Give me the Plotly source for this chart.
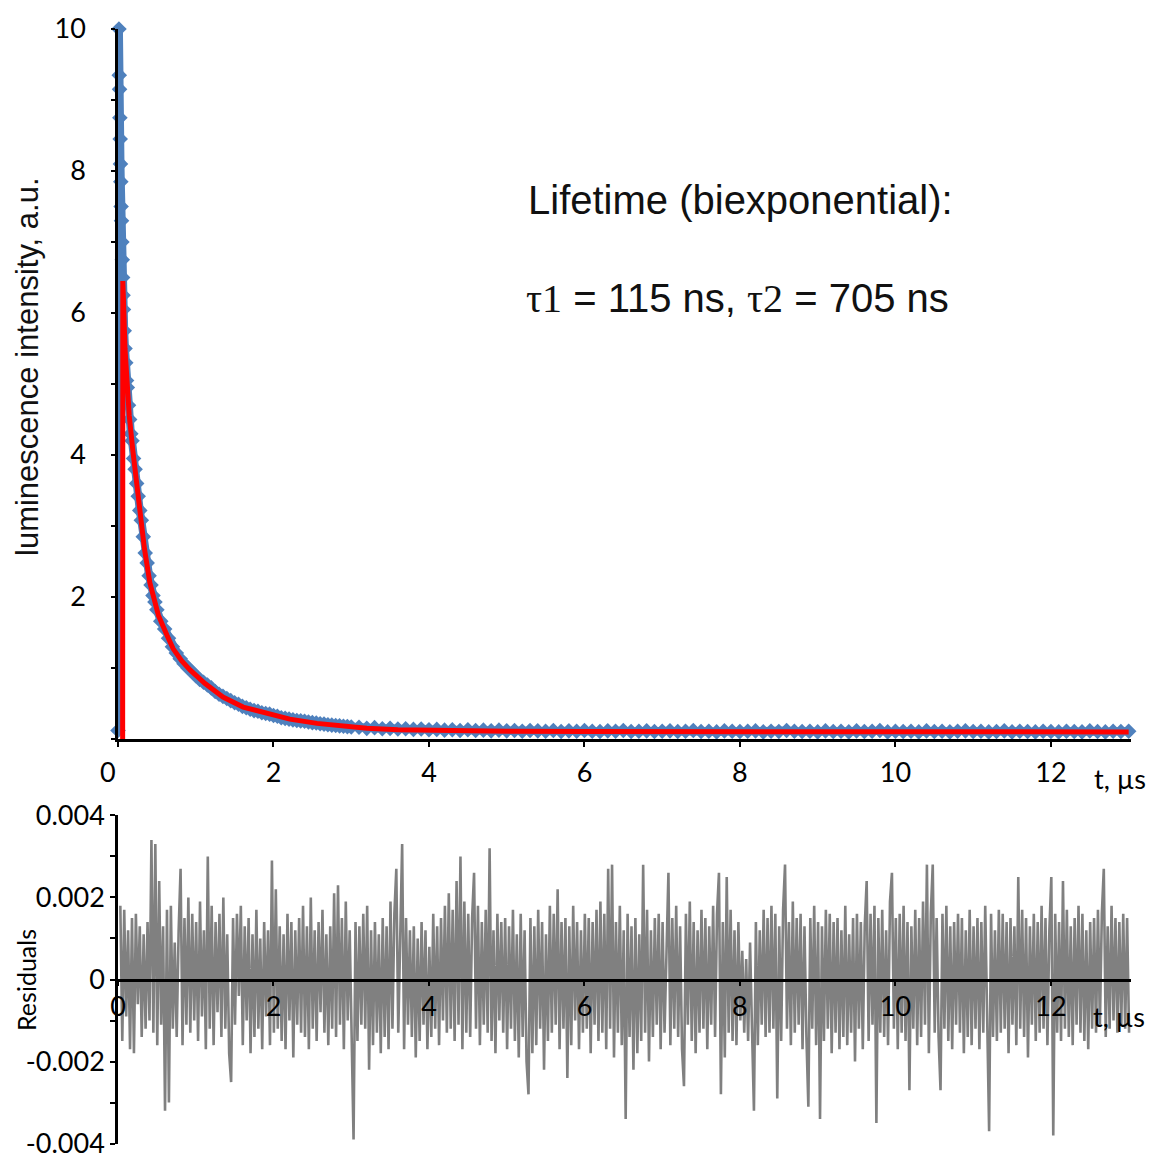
import plotly.graph_objects as go

# ---------------- data ----------------
# measured luminescence decay (blue), t in microseconds
decay_t = [0.000, 0.012, 0.016, 0.020, 0.024, 0.028, 0.032, 0.036, 0.040, 0.045,
           0.050, 0.055, 0.060, 0.065, 0.070, 0.080, 0.090, 0.100, 0.110, 0.120,
           0.135, 0.150, 0.165, 0.180, 0.200, 0.220, 0.240, 0.260, 0.280, 0.300,
           0.325, 0.350, 0.375, 0.400, 0.425, 0.450, 0.475, 0.500, 0.55, 0.60,
           0.65, 0.70, 0.75, 0.80, 0.85, 0.90, 0.95, 1.00, 1.05, 1.10,
           1.15, 1.20, 1.25, 1.30, 1.35, 1.40, 1.45, 1.50, 1.55, 1.60,
           1.65, 1.70, 1.75, 1.80, 1.85, 1.90, 1.95, 2.00, 2.05, 2.10,
           2.15, 2.20, 2.25, 2.30, 2.35, 2.40, 2.45, 2.50, 2.55, 2.60,
           2.65, 2.70, 2.75, 2.80, 2.85, 2.90, 2.95, 3.00,
           3.1, 3.2, 3.3, 3.4, 3.5, 3.6, 3.7, 3.8, 3.9, 4.0,
           4.1, 4.2, 4.3, 4.4, 4.5, 4.6, 4.7, 4.8, 4.9, 5.0,
           5.1, 5.2, 5.3, 5.4, 5.5, 5.6, 5.7, 5.8, 5.9, 6.0,
           6.1, 6.2, 6.3, 6.4, 6.5, 6.6, 6.7, 6.8, 6.9, 7.0,
           7.1, 7.2, 7.3, 7.4, 7.5, 7.6, 7.7, 7.8, 7.9, 8.0,
           8.1, 8.2, 8.3, 8.4, 8.5, 8.6, 8.7, 8.8, 8.9, 9.0,
           9.1, 9.2, 9.3, 9.4, 9.5, 9.6, 9.7, 9.8, 9.9, 10.0,
           10.1, 10.2, 10.3, 10.4, 10.5, 10.6, 10.7, 10.8, 10.9, 11.0,
           11.1, 11.2, 11.3, 11.4, 11.5, 11.6, 11.7, 11.8, 11.9, 12.0,
           12.1, 12.2, 12.3, 12.4, 12.5, 12.6, 12.7, 12.8, 12.9, 13.0]
decay_y = [0.12, 10.0, 9.35, 9.15, 8.75, 8.45, 8.10, 7.85, 7.50, 7.30,
           7.00, 6.75, 6.50, 6.25, 6.05, 5.75, 5.50, 5.30, 5.05, 4.95,
           4.70, 4.50, 4.30, 4.20, 3.95, 3.80, 3.60, 3.42, 3.22, 3.08,
           2.85, 2.62, 2.48, 2.30, 2.17, 2.02, 1.93, 1.82, 1.66, 1.55,
           1.42, 1.30, 1.21, 1.13, 1.06, 1.00, 0.95, 0.89, 0.84, 0.80,
           0.76, 0.72, 0.67, 0.63, 0.60, 0.57, 0.54, 0.51, 0.49, 0.46,
           0.44, 0.42, 0.40, 0.39, 0.37, 0.36, 0.35, 0.33, 0.32, 0.30,
           0.29, 0.28, 0.27, 0.26, 0.255, 0.25, 0.24, 0.23, 0.225, 0.215,
           0.21, 0.20, 0.195, 0.19, 0.185, 0.18, 0.175, 0.17,
           0.165, 0.150, 0.160, 0.145, 0.150, 0.140, 0.145, 0.135, 0.140, 0.130,
           0.135, 0.125, 0.130, 0.120, 0.130, 0.120, 0.125, 0.115, 0.125, 0.115,
           0.120, 0.110, 0.120, 0.115, 0.110, 0.120, 0.105, 0.115, 0.110, 0.120,
           0.110, 0.105, 0.115, 0.110, 0.120, 0.105, 0.110, 0.115, 0.105, 0.110,
           0.115, 0.105, 0.110, 0.120, 0.105, 0.110, 0.100, 0.115, 0.110, 0.105,
           0.110, 0.115, 0.100, 0.110, 0.105, 0.120, 0.110, 0.105, 0.110, 0.100,
           0.115, 0.105, 0.110, 0.100, 0.115, 0.105, 0.110, 0.120, 0.100, 0.110,
           0.105, 0.110, 0.100, 0.115, 0.105, 0.110, 0.100, 0.110, 0.115, 0.105,
           0.110, 0.100, 0.105, 0.115, 0.100, 0.110, 0.105, 0.100, 0.110, 0.105,
           0.100, 0.110, 0.105, 0.100, 0.115, 0.105, 0.100, 0.110, 0.105, 0.110]

# biexponential fit (red)
fit_t = [0.060, 0.062, 0.070, 0.090, 0.115, 0.145, 0.190, 0.240, 0.280, 0.340,
         0.410, 0.520, 0.630, 0.710, 0.820, 0.930, 1.120, 1.350, 1.610, 1.920,
         2.210, 2.560, 2.860, 3.200, 3.600, 4.000, 5.000, 6.000, 13.000]
fit_y = [0.00, 6.45, 6.20, 5.50, 5.00, 4.55, 4.07, 3.60, 3.20, 2.68,
         2.20, 1.74, 1.46, 1.27, 1.10, 0.97, 0.78, 0.59, 0.45, 0.36,
         0.28, 0.22, 0.18, 0.15, 0.13, 0.12, 0.11, 0.105, 0.100]

# fit residuals, in units of 1e-4, sampled every 0.025 us starting at 0.03 us
res_t0 = 0.03
res_dt = 0.025
residuals_e4 = [
    18, -15, 17, -9, 12, -17, 15, -18, 16, -6, 13, -14, 11, -12, 14, -10, 34, -13, 33, -16,
    24, -11, 13, -32, 17, -30, 18, -12, 9, -14, 12, 27, -16, 15, -11, 20, -13, 16, -10, 14,
    -15, 19, -9, 12, -17, 30, -12, 18, -16, 14, -8, 16, -14, 20, -12, 11, -18, -25, 15, -11,
    16, -4, 18, -16, 13, -10, 15, -18, 11, -14, 17, -12, 10, -17, 14, -9, 12, -16, 29, -13,
    22, -12, 13, -15, 11, -17, 16, -10, 14, -19, 12, -11, 15, -13, 18, -14, 13, -17, 20, -12,
    12, -15, 14, -8, 17, -13, 11, -16, 13, -12, 21, -14, 23, -11, 15, -17, 19, -10, 12, -13,
    -39, 14, -15, 13, -11, 16, -12, 18, -22, 12, -16, 14, -13, 11, -18, 15, -14, 13, -17, 19,
    -12, 16, 27, -13, 14, 33, -17, 15, -11, 12, -14, 13, -19, 10, -15, 14, -11, 12, -17, 8,
    -14, 16, -12, 13, -16, 15, -10, 18, -13, 21, -12, 17, -15, 24, -11, 30, -17, 19, -13, 16,
    -14, 15, 26, -12, 18, -16, 14, -11, 17, -13, 32, -15, 12, -18, 16, -10, 14, -13, 15, -17,
    13, -12, 17, -15, 11, -19, 16, -14, 12, -20, -28, 15, -18, 13, -16, 17, -12, 14, -22, 11,
    -15, 18, -13, 16, -11, 22, -17, 14, -12, 15, -24, 13, -16, 18, -10, 14, -17, 12, -13, 16,
    -12, 15, -18, 14, -11, 17, -15, 19, -13, 16, -17, 27, -12, 28, -19, 14, -13, 18, -16, 12,
    -34, 16, -14, 13, -22, 15, -18, 11, -15, 28, -13, 17, -20, 12, -14, 15, -11, 16, -17, 14,
    -13, 11, 26, -16, 15, -12, 18, -14, 13, -17, -26, 16, -11, 19, -15, 14, -18, 12, -13, 17,
    -12, 15, -17, 13, -11, 18, -14, 16, 26, -28, 14, -19, 25, -13, 17, -15, 12, -16, 14, -10,
    7, -13, 5, -15, 9, -12, -32, 14, -16, 12, -11, 17, -14, 15, -13, 18, -12, 16, -29, 13,
    -15, 17, 28, -12, 14, -16, 19, -13, 15, -11, 16, -17, 13, -14, -31, 15, -12, 18, -16, 14,
    -34, 13, -15, 17, -12, 16, -18, 14, -13, 15, -17, 12, -14, 18, -16, 11, -13, 15, -20, 16,
    -12, 14, -17, 13, 24, -15, 16, -11, 18, -35, 15, -13, 17, -14, 12, -16, 19, 26, -12, 15,
    -17, 16, -13, 18, -15, 14, -27, 13, -12, 17, -16, 15, -14, 19, -11, 28, -18, 16, 28, -13,
    15, -14, -27, 16, -12, 18, -15, 13, -17, 14, -11, 16, -13, 15, -18, 12, -14, 17, -16, 13,
    -12, 15, -17, 14, -13, 18, -11, -37, 16, -14, 12, -15, 17, -13, 16, -12, 14, -18, 15, -11,
    13, -16, 25, -12, 17, -14, 15, -19, 13, -11, 16, -15, 14, -13, 18, -12, 15, -16, 12, 25,
    -38, 16, -13, 14, -15, 24, -12, 17, -14, 13, -16, 15, -11, 18, -13, 16, -15, 12, -17, 14,
    -12, 15, -13, 17, -11, 16, 27, -14, 13, -12, 18, -10, 15, -13, 14, -11, 16, -12, 15, -13,
]

# axis ticks
x_ticks = [0, 2, 4, 6, 8, 10, 12]
x_top_text = ['', '2', '4', '6', '8', '10', '12']
x_bot_text = ['0', '2', '4', '6', '8', '10', '12']
top_y_ticks = [0, 1, 2, 3, 4, 5, 6, 7, 8, 9, 10]
top_y_text = ['', '', '2', '', '4', '', '6', '', '8', '', '10']
res_y_ticks = [-0.004, -0.003, -0.002, -0.001, 0, 0.001, 0.002, 0.003, 0.004]
res_y_text = ['-0.004', '', '-0.002', '', '0', '', '0.002', '', '0.004']

# ---------------- derived ----------------
res_t = [round(res_t0 + i * res_dt, 4) for i in range(len(residuals_e4))]
res_v = [v * 1e-4 for v in residuals_e4]

BLUE = '#4F81BD'
RED = '#FF0000'
GRAY = '#808080'
TICKFONT = dict(family='Lato, Noto Sans, sans-serif', size=27, color='black')

fig = go.Figure()
fig.add_trace(go.Scatter(x=decay_t, y=decay_y, mode='lines+markers',
                         line=dict(color=BLUE, width=8),
                         marker=dict(symbol='diamond', size=12, color=BLUE),
                         cliponaxis=False, xaxis='x', yaxis='y', showlegend=False))
fig.add_trace(go.Scatter(x=fit_t, y=fit_y, mode='lines',
                         line=dict(color=RED, width=5),
                         xaxis='x', yaxis='y', showlegend=False))
fig.add_trace(go.Scatter(x=res_t, y=res_v, mode='lines',
                         line=dict(color=GRAY, width=2.6),
                         xaxis='x2', yaxis='y2', showlegend=False))

MT, MB = 29, 14
PLOT_H = 1158 - MT - MB
BOTTOM_PX = 1158 - MB
top_lo = (BOTTOM_PX - 739) / PLOT_H
bot_hi = (BOTTOM_PX - 815) / PLOT_H
x_range = [0, 13.03]

fig.update_layout(
    width=1153, height=1158,
    margin=dict(l=118, r=22, t=MT, b=MB, autoexpand=False),
    paper_bgcolor='white', plot_bgcolor='white',
    xaxis=dict(domain=[0, 1], anchor='y', range=x_range, automargin=False,
               tickmode='array', tickvals=x_ticks, ticktext=x_top_text,
               ticks='outside', ticklen=5, tickwidth=2, tickcolor='black',
               showline=True, linecolor='black', linewidth=3,
               showgrid=False, zeroline=False, tickfont=TICKFONT,
               ticklabelstandoff=3),
    yaxis=dict(domain=[top_lo, 1], anchor='x', range=[0, 10], automargin=False,
               tickmode='array', tickvals=top_y_ticks, ticktext=top_y_text,
               ticks='outside', ticklen=4, tickwidth=2, tickcolor='black',
               showline=True, linecolor='black', linewidth=2.5,
               showgrid=False, zeroline=False, tickfont=TICKFONT,
               ticklabelstandoff=20),
    xaxis2=dict(domain=[0, 1], anchor='free', position=bot_hi / 2, range=x_range,
                automargin=False,
                tickmode='array', tickvals=x_ticks, ticktext=x_bot_text,
                ticks='outside', ticklen=4, tickwidth=2, tickcolor='black',
                showline=True, linecolor='black', linewidth=3,
                showgrid=False, zeroline=False, tickfont=TICKFONT,
                ticklabelstandoff=-2),
    yaxis2=dict(domain=[0, bot_hi], anchor='x2', range=[-0.00401, 0.00401],
                automargin=False,
                tickmode='array', tickvals=res_y_ticks, ticktext=res_y_text,
                ticks='outside', ticklen=5, tickwidth=2, tickcolor='black',
                showline=True, linecolor='black', linewidth=2.5,
                showgrid=False, zeroline=False, tickfont=TICKFONT,
                ticklabeloverflow='allow'),
)

def px_x(px):
    return (px - 118) / 1013.0

def px_y(py):
    return (BOTTOM_PX - py) / PLOT_H

ann = []
ann.append(dict(text='Lifetime (biexponential):', xref='paper', yref='paper',
                x=px_x(526), y=px_y(200), xanchor='left', yanchor='middle',
                showarrow=False,
                font=dict(family='Liberation Sans, Arial, sans-serif', size=40, color='#111')))
ann.append(dict(text="<span style=\"font-family:'Liberation Serif', serif\">τ1</span> = 115 ns, "
                     "<span style=\"font-family:'Liberation Serif', serif\">τ2</span> = 705 ns",
                xref='paper', yref='paper',
                x=px_x(524), y=px_y(298), xanchor='left', yanchor='middle',
                showarrow=False,
                font=dict(family='Liberation Sans, Arial, sans-serif', size=40, color='#111')))
ann.append(dict(text='luminescence intensity, a.u.', xref='paper', yref='paper',
                x=px_x(27), y=px_y(367), xanchor='center', yanchor='middle',
                textangle=-90, showarrow=False,
                font=dict(family='Liberation Sans, Arial, sans-serif', size=31, color='#111')))
ann.append(dict(text='Residuals', xref='paper', yref='paper',
                x=px_x(26), y=px_y(980), xanchor='center', yanchor='middle',
                textangle=-90, showarrow=False,
                font=dict(family='Lato, sans-serif', size=25, color='black')))
ann.append(dict(text='t, µs', xref='paper', yref='paper',
                x=px_x(1120), y=px_y(778), xanchor='center', yanchor='middle',
                showarrow=False, font=TICKFONT))
ann.append(dict(text='t, µs', xref='paper', yref='paper',
                x=px_x(1119), y=px_y(1017), xanchor='center', yanchor='middle',
                showarrow=False, font=TICKFONT))
ann.append(dict(text='0', xref='paper', yref='paper',
                x=px_x(108), y=px_y(771), xanchor='center', yanchor='middle',
                showarrow=False, font=TICKFONT))
fig.update_layout(annotations=ann)

fig.write_html('out.html')
